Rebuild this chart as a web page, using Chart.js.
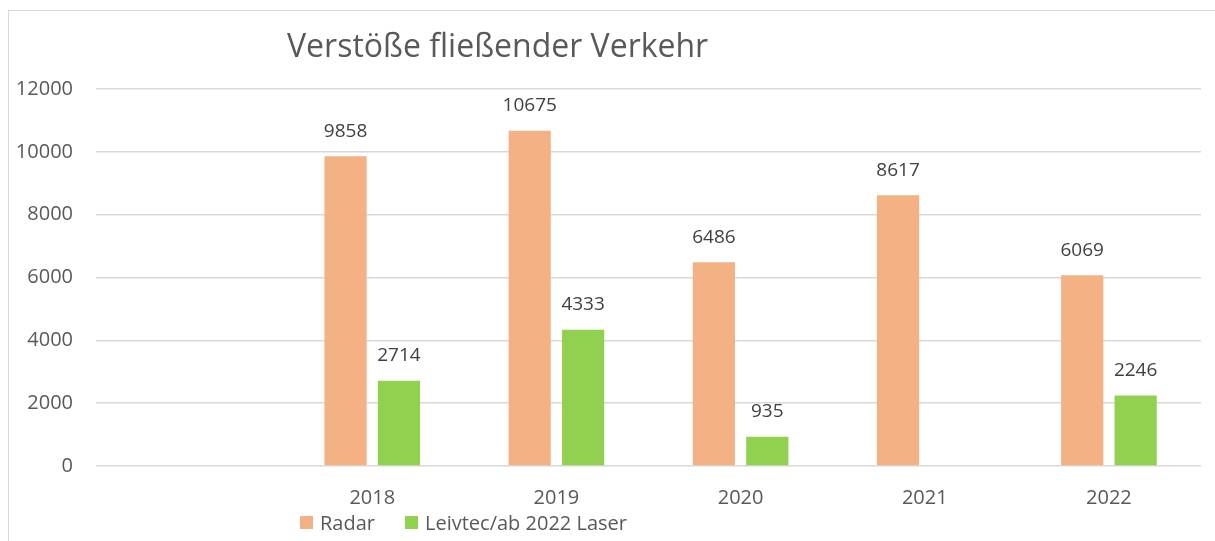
<!DOCTYPE html>
<html>
<head>
<meta charset="utf-8">
<script src="https://cdn.jsdelivr.net/npm/chart.js@4.4.1/dist/chart.umd.min.js"></script>
<style>
  html, body { margin: 0; padding: 0; background: #fff; overflow: hidden; }
  #wrap { position: relative; width: 1215px; height: 541px; }
  #frame { position: absolute; left: 8px; top: 10px; width: 1220px; height: 540px;
           border: 1.5px solid #d9d9d9; box-sizing: border-box; }
  #legend { position: absolute; left: 300px; top: 509px; font: 20px "Open Sans", sans-serif;
            color: #595959; display: flex; align-items: center; }
  #legend span.box { display: inline-block; width: 13px; height: 13px; margin-right: 7px; }
  #legend span.item { display: flex; align-items: center; margin-right: 30px; }
</style>
</head>
<body>
<div id="wrap">
  <div id="frame"></div>
  <canvas id="chart" width="1215" height="541"></canvas>
  <div id="legend"></div>
</div>
<script>
const years = ['', '2018', '2019', '2020', '2021', '2022'];
const radar = [null, 9858, 10675, 6486, 8617, 6069];
const leivtec = [null, 2714, 4333, 935, null, 2246];
const yTicks = [0, 2000, 4000, 6000, 8000, 10000, 12000];

const chartTitle = 'Verstöße fließender Verkehr';
const seriesNames = ['Radar', 'Leivtec/ab 2022 Laser'];
const colors = ['#F4B183', '#92D050'];

const data = {
    labels: years,
    datasets: [{
        label: seriesNames[0],
        backgroundColor: colors[0],
        data: radar
    },
    {
        label: seriesNames[1],
        backgroundColor: colors[1],
        data: leivtec
    }]
}

// value labels above each bar
const barLabels = {
    id: 'barLabels',
    afterDatasetsDraw(chart) {
        const ctx = chart.ctx;
        ctx.save();
        ctx.font = '19px "Open Sans"';
        ctx.fillStyle = '#404040';
        ctx.textAlign = 'center';
        ctx.textBaseline = 'middle';
        chart.data.datasets.forEach((ds, i) => {
            chart.getDatasetMeta(i).data.forEach((bar, j) => {
                if (ds.data[j] == null) return;
                ctx.fillText(ds.data[j], bar.x, bar.y - 25);
            });
        });
        ctx.restore();
    }
}

const titlePlugin = {
    id: 'leftTitle',
    afterDraw(chart) {
        const ctx = chart.ctx;
        ctx.save();
        ctx.font = '32px "Open Sans"';
        ctx.fillStyle = '#595959';
        ctx.textBaseline = 'middle';
        ctx.fillText(chartTitle, 287, 48);
        ctx.restore();
    }
}

const config = {
    type: 'bar',
    data: data,
    options: {
        responsive: false,
        animation: false,
        layout: { padding: { top: 89, right: 14, left: 0, bottom: 0 } },
        datasets: {
            bar: { categoryPercentage: 0.58, barPercentage: 0.79 }
        },
        scales: {
            x: {
                grid: { display: false, drawTicks: false },
                border: { display: false },
                ticks: {
                    color: '#595959',
                    font: { family: 'Open Sans', size: 20 },
                    padding: 20
                },
                afterFit(scale) { scale.height = 75; }
            },
            y: {
                min: 0,
                max: 12000,
                afterBuildTicks(scale) { scale.ticks = yTicks.map(v => ({ value: v })); },
                grid: { color: '#d9d9d9', lineWidth: 1.5, drawTicks: false },
                border: { display: false },
                ticks: {
                    color: '#595959',
                    font: { family: 'Open Sans', size: 20 },
                    padding: 23,
                    callback: function (value) {
                        return String(value)
                    }
                },
                afterFit(scale) { scale.width = 96; }
            }
        },
        plugins: {
            legend: { display: false },
            tooltip: { enabled: false }
        }
    },
    plugins: [barLabels, titlePlugin]
}

const verstoesse = new Chart(
    document.getElementById('chart'),
    config
)

const legendEl = document.getElementById('legend');
seriesNames.forEach((name, i) => {
    const item = document.createElement('span');
    item.className = 'item';
    item.innerHTML = '<span class="box" style="background:' + colors[i] + '"></span>' + name;
    legendEl.appendChild(item);
});
</script>
</body>
</html>
